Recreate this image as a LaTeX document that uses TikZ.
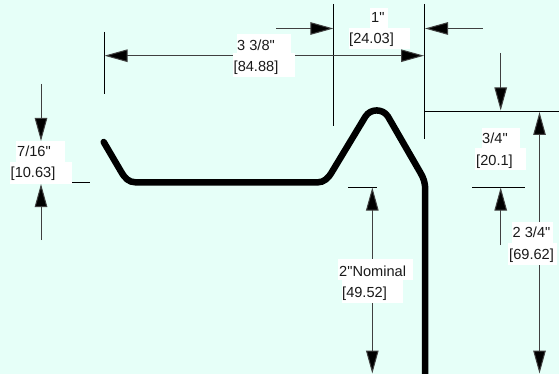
\documentclass[tikz,border=0pt]{standalone}
\usepackage{fontspec}
\newfontfamily\dimfont{Liberation Sans}
\usetikzlibrary{arrows.meta}
\definecolor{bgcol}{HTML}{E6FFF8}
\tikzset{
  extline/.style={draw=black,line width=0.9pt},
  dimline/.style={draw=black!75,line width=1pt},
  tipped/.style={dimline,-{Triangle[length=23pt,width=12.5pt,fill=black]}},
  twotips/.style={dimline,{Triangle[length=23pt,width=12.5pt,fill=black]}-{Triangle[length=23pt,width=12.5pt,fill=black]}},
  profile/.style={draw=black,line width=6.5pt,line cap=round,line join=round},
  labelbg/.style={fill=white,draw=none},
  dimtext/.style={anchor=base west,inner sep=0pt,font=\dimfont\fontsize{14.6}{16}\selectfont,text=black!90}
}
\begin{document}
\begin{tikzpicture}[x=1pt,y=-1pt]
\useasboundingbox (0,0) rectangle (559,374);
\fill[bgcol] (0,0) rectangle (559,374);
% coordinates
\coordinate (extA1) at (104,32); \coordinate (extA2) at (104,94.5);
\coordinate (extB1) at (333.7,4); \coordinate (extB2) at (333.7,126);
\coordinate (extC1) at (424.5,4); \coordinate (extC2) at (424.5,139);
\coordinate (topR) at (559,111); \coordinate (topL) at (424.5,111);
\coordinate (tipA) at (104.5,55.7); \coordinate (tipC) at (424,55.7);
\coordinate (inB) at (276,28.5); \coordinate (tipB) at (333.4,28.5);
\coordinate (inC) at (482.5,28.5); \coordinate (tipC2) at (425,28.5);
\coordinate (in34) at (500.7,53); \coordinate (tip34) at (500.7,110.5);
\coordinate (in34b) at (500.7,245); \coordinate (tip34b) at (500.7,187.5);
\coordinate (tip234a) at (539.5,112); \coordinate (tip234b) at (539.5,373.5);
\coordinate (tip2a) at (372.3,187.5); \coordinate (tip2b) at (372.3,373.5);
\coordinate (inL1) at (41,84); \coordinate (tipL1) at (41,141);
\coordinate (inL2) at (41,240); \coordinate (tipL2) at (41,184);
\coordinate (tk1a) at (348,187); \coordinate (tk1b) at (377,187);
\coordinate (tk2a) at (472,187); \coordinate (tk2b) at (525,187);
\coordinate (tk3a) at (72,182.5); \coordinate (tk3b) at (90,182.5);
% extension lines
\draw[extline] (extA1) -- (extA2);
\draw[extline] (extB1) -- (extB2);
\draw[extline] (extC1) -- (extC2);
\draw[extline] (topL) -- (topR);
\draw[extline] (tk1a) -- (tk1b);
\draw[extline] (tk2a) -- (tk2b);
\draw[extline] (tk3a) -- (tk3b);
% dimension lines
\draw[twotips] (tipA) -- (tipC);
\draw[tipped] (inB) -- (tipB);
\draw[tipped] (inC) -- (tipC2);
\draw[tipped] (in34) -- (tip34);
\draw[tipped] (in34b) -- (tip34b);
\draw[twotips] (tip234a) -- (tip234b);
\draw[twotips] (tip2a) -- (tip2b);
\draw[tipped] (inL1) -- (tipL1);
\draw[tipped] (inL2) -- (tipL2);
% profile
\draw[profile] (103.7,142) -- (121,171.5) .. controls (125,178.5) and (129,182.3) .. (135.5,182.3)
  -- (318,182.3) .. controls (323.7,182.3) and (328.3,178.5) .. (332.5,171)
  -- (365.44,116.5) .. controls (370.5,108.4) and (382.9,108.4) .. (387.96,116.5)
  -- (420.3,172.5) .. controls (423.7,177.9) and (425.2,183.6) .. (425.2,189) -- (425.2,378);
% label backgrounds
\fill[labelbg] (237,34) rectangle (291,53.5);
\fill[labelbg] (233,53.5) rectangle (295,77);
\fill[labelbg] (370,8) rectangle (388,28);
\fill[labelbg] (348.5,28) rectangle (410,49);
\fill[labelbg] (482,128) rectangle (520,148);
\fill[labelbg] (475,148) rectangle (526,170.5);
\fill[labelbg] (512,222) rectangle (553,243);
\fill[labelbg] (508,243) rectangle (557,264.5);
\fill[labelbg] (338,259) rectangle (413,280);
\fill[labelbg] (342,280) rectangle (403,302.5);
\fill[labelbg] (16,141) rectangle (65,162);
\fill[labelbg] (10,162) rectangle (72,184);
% labels
\node[dimtext] (l1a) at (237,51) {3 3/8"};
\node[dimtext] (l1b) at (233.5,71.5) {[84.88]};
\node[dimtext] (l2a) at (371,23) {1"};
\node[dimtext] (l2b) at (349,44) {[24.03]};
\node[dimtext] (l3a) at (482,144) {3/4"};
\node[dimtext] (l3b) at (476,165.5) {[20.1]};
\node[dimtext] (l4a) at (512.5,237) {2 3/4"};
\node[dimtext] (l4b) at (509,259) {[69.62]};
\node[dimtext] (l5a) at (339,276) {2"Nominal};
\node[dimtext] (l5b) at (342,297) {[49.52]};
\node[dimtext] (l6a) at (17,157) {7/16"};
\node[dimtext] (l6b) at (10.5,178) {[10.63]};
\end{tikzpicture}
\end{document}
